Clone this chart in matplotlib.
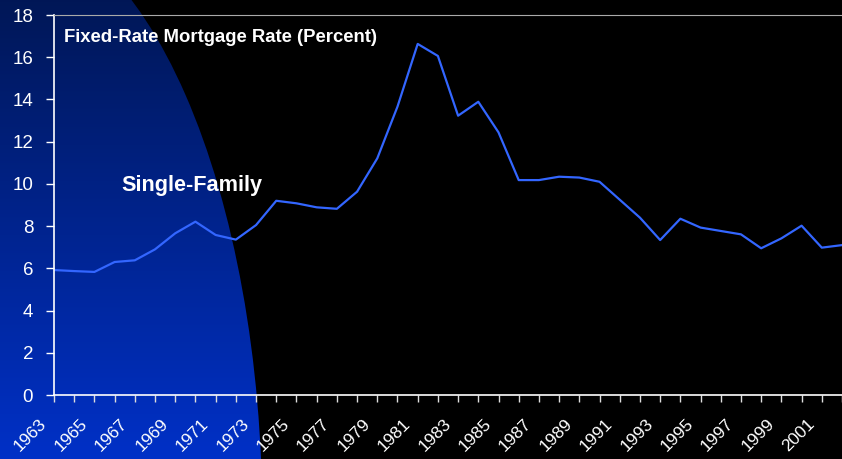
import numpy as np
import matplotlib
matplotlib.use("Agg")
from matplotlib import pyplot as plt
from matplotlib.patches import Ellipse
from matplotlib.transforms import ScaledTranslation

# Fixed-rate mortgage rate, single-family (percent)
years = list(range(1963, 2003))
rates = [5.92, 5.87, 5.83, 6.30, 6.38, 6.90, 7.66, 8.21, 7.58, 7.36,
         8.05, 9.20, 9.08, 8.89, 8.82, 9.63, 11.21, 13.66, 16.63, 16.06,
         13.23, 13.89, 12.44, 10.18, 10.18, 10.34, 10.30, 10.10, 9.25, 8.40,
         7.34, 8.35, 7.93, 7.77, 7.61, 6.95, 7.42, 8.02, 6.98, 7.10]
yticks = list(range(0, 19, 2))
label_years = list(range(1963, 2002, 2))

plt.rcParams['font.family'] = ['Liberation Sans', 'DejaVu Sans']

W, H = 842, 459
fig = plt.figure(figsize=(W / 100, H / 100), dpi=100)
fig.patch.set_facecolor('black')

# background: blue gradient swoosh in the lower-left corner
bg = fig.add_axes([0, 0, 1, 1], zorder=0)
bg.set_xlim(0, W)
bg.set_ylim(0, H)
bg.axis('off')
grad = np.linspace(0, 1, 256)[:, None]
top = np.array([0.0, 0.09, 0.34])
bottom = np.array([0.0, 0.19, 0.78])
img = (top[None, None, :] * (1 - grad[:, :, None]) + bottom[None, None, :] * grad[:, :, None])
im = bg.imshow(img, extent=[0, W, 0, H], origin='upper', aspect='auto')
ell = Ellipse((0, -61), 2 * 262.4, 2 * 601, transform=bg.transData, facecolor='none', edgecolor='none')
bg.add_patch(ell)
im.set_clip_path(ell)

ax = fig.add_axes([54 / W, 64 / H, 788 / W, 380 / H], zorder=1)
ax.set_facecolor('none')
ax.plot(years, rates, color='#3366ff', lw=1.6)

ax.set_xlim(1963, 1963 + 788 / 20.41)
ax.set_ylim(0, 18)
ax.set_yticks(yticks)
ax.set_xticks(label_years)
ax.set_xticks(years, minor=True)
ax.tick_params(axis='y', colors='white', labelsize=13.5, length=6, width=1, pad=9)
ax.tick_params(axis='x', which='both', colors='#dddddd', length=5, width=1)
ax.tick_params(axis='x', labelcolor='white', labelsize=12.5, pad=3)
shift = ScaledTranslation(-15 / 100, -10 / 100, fig.dpi_scale_trans)
for lab in ax.get_xticklabels():
    lab.set_rotation(45)
    lab.set_ha('right')
    lab.set_va('top')
    lab.set_rotation_mode('anchor')
    lab.set_transform(lab.get_transform() + shift)

for side in ['left', 'bottom']:
    ax.spines[side].set_color('white')
    ax.spines[side].set_linewidth(1.2)
ax.spines['top'].set_color('#aaaaaa')
ax.spines['right'].set_visible(False)

ax.text(64 / W, 1 - 38 / H, 'Fixed-Rate Mortgage Rate (Percent)', transform=fig.transFigure,
        color='white', fontsize=13.3, fontweight='bold', va='center', ha='left')
ax.text(121 / W, 1 - 186 / H, 'Single-Family', transform=fig.transFigure,
        color='white', fontsize=15.6, fontweight='bold', va='center', ha='left')

fig.savefig('out.png', dpi=100, facecolor=fig.get_facecolor())
